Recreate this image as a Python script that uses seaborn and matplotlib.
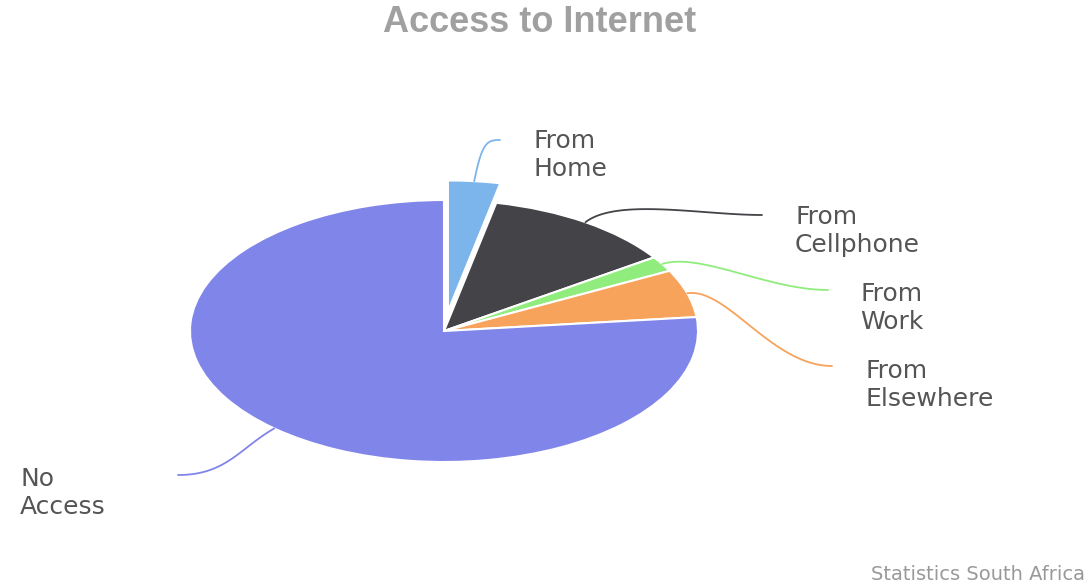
import matplotlib
matplotlib.use("Agg")
import matplotlib.pyplot as plt
import seaborn as sns
import numpy as np

sns.set_theme(style="white")
plt.rcParams['font.family'] = ['DejaVu Sans']

# share of households by internet access point (%)
categories = ['From\nHome', 'From\nCellphone', 'From\nWork', 'From\nElsewhere', 'No\nAccess']
shares = [3.3, 12.2, 1.9, 5.9, 76.7]
colors = ['#7cb5ec', '#434348', '#90ed7d', '#f7a35c', '#8085e9']

W, H = 1088, 585
cx, cy = 444, 331        # pie centre in pixels (from top-left)
rx, ry = 254, 131        # the reference pie is squashed into an ellipse

def px(x, y):
    return (x - cx) / rx, (cy - y) / ry

# label anchor (left edge, vertical centre) and connector end, in pixels
label_pos = [(533, 155), (795, 231), (860, 308), (865, 385), (20, 493)]
conn_end = [(500, 140), (762, 215), (828, 290), (832, 366), (178, 475)]

fig = plt.figure(figsize=(W / 100, H / 100), dpi=100)
ax = fig.add_axes([0, 0, 1, 1])
explode = [0.15, 0, 0, 0, 0]
wedges, _ = ax.pie(shares, colors=colors, startangle=90, counterclock=False,
                   explode=explode, radius=1,
                   wedgeprops=dict(edgecolor='white', linewidth=1.5))
ax.set_aspect('auto')
ax.set_xlim(-cx / rx, (W - cx) / rx)
ax.set_ylim(-(H - cy) / ry, cy / ry)
ax.axis('off')

t = np.linspace(0, 1, 60)[:, None]
for w, lab, col, lp, ce, ex in zip(wedges, categories, colors, label_pos, conn_end, explode):
    mid = np.deg2rad((w.theta1 + w.theta2) / 2)
    r = 1 + ex
    # work in pixel space (y down) so the curve looks like the Highcharts one
    p0 = np.array([cx + r * np.cos(mid) * rx, cy - r * np.sin(mid) * ry])
    d = np.array([np.cos(mid) * rx, -np.sin(mid) * ry])
    d /= np.hypot(*d)
    p3 = np.array(ce, dtype=float)
    side = 1 if p3[0] > p0[0] else -1
    span = abs(p3[0] - p0[0])
    p1 = p0 + d * 40
    p2 = p3 - np.array([side * min(60, span * 0.5), 0])
    curve = ((1 - t) ** 3 * p0 + 3 * (1 - t) ** 2 * t * p1
             + 3 * (1 - t) * t ** 2 * p2 + t ** 3 * p3)
    xs, ys = px(curve[:, 0], curve[:, 1])
    ax.plot(xs, ys, color=col, lw=1.3, solid_capstyle='round')
    ax.text(*px(*lp), lab, ha='left', va='center', fontsize=18,
            color='#555555', linespacing=1.2)

fig.text(540 / W, 1 - 23 / H, 'Access to Internet', ha='center', va='center',
         fontsize=26, fontweight='bold', color='#a0a0a0',
         family=['Liberation Sans', 'DejaVu Sans'])
fig.text(1085 / W, 1 - 574 / H, 'Statistics South Africa', ha='right', va='center',
         fontsize=14, color='#999999')

plt.savefig('out.png', dpi=100)
